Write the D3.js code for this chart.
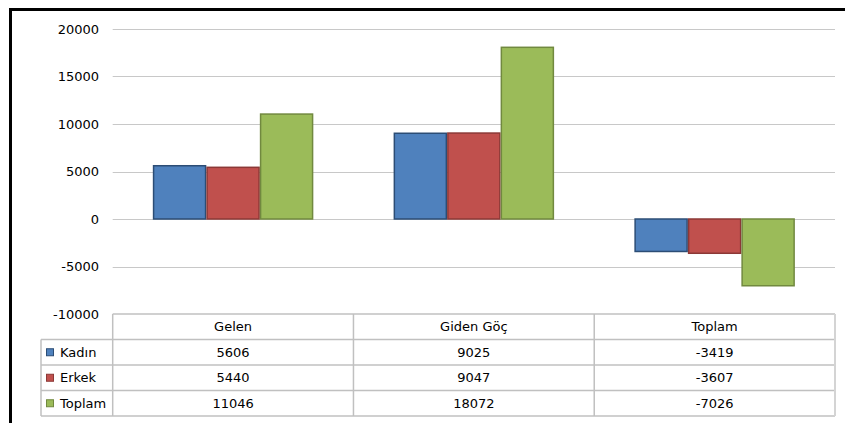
<!DOCTYPE html>
<html><head><meta charset="utf-8">
<script src="https://cdn.jsdelivr.net/npm/d3@7"></script>
<style>body{margin:0;background:#fff}svg{display:block}text{font-family:"DejaVu Sans",sans-serif;font-size:13px;fill:#000}</style>
</head><body>
<svg id="c" width="845" height="423"></svg>
<script>
const categories = ["Gelen", "Giden Göç", "Toplam"];
const seriesNames = ["Kadın", "Erkek", "Toplam"];
const kadin = [5606, 9025, -3419];
const erkek = [5440, 9047, -3607];
const toplam = [11046, 18072, -7026];
const yTicks = [-10000, -5000, 0, 5000, 10000, 15000, 20000];
const fills = ["#4F81BD", "#C0504D", "#9BBB59"];
const strokes = ["#2C4D75", "#8C3836", "#71893F"];

const series = [kadin, erkek, toplam];
const svg = d3.select("#c");

// outer frame
svg.append("line").attr("x1",10.5).attr("x2",10.5).attr("y1",8).attr("y2",423).attr("stroke","#000").attr("stroke-width",3);
svg.append("line").attr("x1",9).attr("x2",845).attr("y1",9.5).attr("y2",9.5).attr("stroke","#000").attr("stroke-width",3);

const plotL = 112.7, plotR = 835;
const y = d3.scaleLinear().domain([-10000, 20000]).range([314, 29]);
const x = d3.scaleBand().domain(categories).range([plotL, plotR]).paddingInner(0).paddingOuter(0);
const inner = d3.scaleBand().domain(seriesNames.map((d,i)=>i)).range([0, x.bandwidth()]).paddingOuter(0.75).paddingInner(0);

// gridlines
svg.append("g").selectAll("line").data(yTicks.filter(t=>t>-10000)).join("line")
  .attr("x1", plotL).attr("x2", plotR)
  .attr("y1", d=>Math.round(y(d))+0.5).attr("y2", d=>Math.round(y(d))+0.5)
  .attr("stroke", "#c8c8c8").attr("stroke-width", 1.2);

// axis labels
const yAxis = d3.axisLeft(y).tickValues(yTicks).tickSize(0).tickPadding(0).tickFormat(d=>String(d));
const ga = svg.append("g").attr("transform", "translate(99,0)").call(yAxis);
ga.select(".domain").remove();
ga.selectAll("text").style("font-family", '"DejaVu Sans",sans-serif').style("font-size","13px").attr("fill","#000");

// bars
series.forEach((vals, si) => {
  svg.append("g").selectAll("rect").data(vals).join("rect")
    .attr("x", (d,i)=>x(categories[i]) + inner(si) + 0.75)
    .attr("width", inner.bandwidth() - 1.5)
    .attr("y", d=>Math.min(y(d), y(0)))
    .attr("height", d=>Math.abs(y(d)-y(0)))
    .attr("fill", fills[si]).attr("stroke", strokes[si]).attr("stroke-width", 1.5);
});

// data table
const tableTop = 314, rowH = 25.5, legendL = 41;
const tg = svg.append("g");
const lineC = "#c0c0c0";
tg.append("line").attr("x1",plotL).attr("x2",plotR).attr("y1",tableTop).attr("y2",tableTop).attr("stroke",lineC).attr("stroke-width",1.5);
for (let r=1; r<=4; r++) {
  tg.append("line").attr("x1",legendL).attr("x2",plotR).attr("y1",tableTop+r*rowH).attr("y2",tableTop+r*rowH).attr("stroke",lineC).attr("stroke-width",1.5);
}
tg.append("line").attr("x1",legendL).attr("x2",legendL).attr("y1",tableTop+rowH).attr("y2",tableTop+4*rowH).attr("stroke",lineC).attr("stroke-width",1.5);
categories.forEach(c=>{
  tg.append("line").attr("x1",x(c)).attr("x2",x(c)).attr("y1",tableTop).attr("y2",tableTop+4*rowH).attr("stroke",lineC).attr("stroke-width",1.5);
});
tg.append("line").attr("x1",plotR).attr("x2",plotR).attr("y1",tableTop).attr("y2",tableTop+4*rowH).attr("stroke","#d4d4d4").attr("stroke-width",2);

tg.selectAll("text.h").data(categories).join("text").attr("class","h")
  .attr("x", d=>x(d)+x.bandwidth()/2).attr("y", tableTop+rowH/2).attr("dy","0.35em")
  .attr("text-anchor","middle").text(d=>d);
series.forEach((vals, si) => {
  const cy = tableTop + (si+1)*rowH + rowH/2;
  tg.append("rect").attr("x",46.5).attr("y",cy-3.5).attr("width",7).attr("height",7)
    .attr("fill",fills[si]).attr("stroke",strokes[si]).attr("stroke-width",1);
  tg.append("text").attr("x",60).attr("y",cy).attr("dy","0.35em").text(seriesNames[si]);
  tg.selectAll("text.v"+si).data(vals).join("text").attr("class","v"+si)
    .attr("x",(d,i)=>x(categories[i])+x.bandwidth()/2).attr("y",cy).attr("dy","0.35em")
    .attr("text-anchor","middle").text(d=>String(d));
});
</script>
</body></html>
